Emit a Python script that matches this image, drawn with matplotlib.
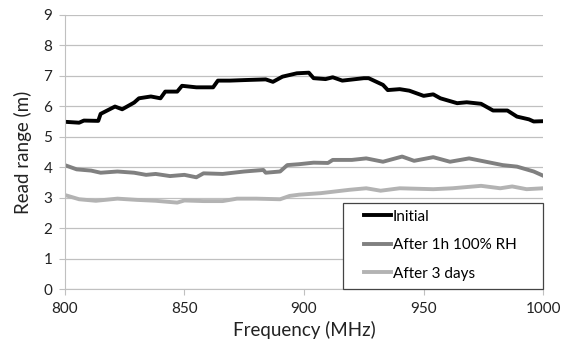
import matplotlib
matplotlib.use("Agg")
import matplotlib.pyplot as plt
from matplotlib.patches import Rectangle

plt.rcParams['font.family'] = ['Lato', 'DejaVu Sans']

# values
f_init = [800, 806, 808, 814, 815, 821, 824, 829, 831, 836, 840, 842, 847, 849, 855, 862,
          864, 869, 876, 884, 887, 891, 897, 902, 904, 909, 912, 916, 925, 927, 930, 933,
          935, 940, 944, 950, 954, 957, 964, 968, 974, 979, 985, 989, 994, 996, 1000]
initial = [5.49, 5.46, 5.53, 5.52, 5.75, 5.99, 5.90, 6.12, 6.26, 6.32, 6.26, 6.48, 6.48, 6.67,
           6.62, 6.62, 6.84, 6.84, 6.86, 6.88, 6.80, 6.97, 7.08, 7.10, 6.92, 6.89, 6.95, 6.84,
           6.92, 6.92, 6.81, 6.70, 6.53, 6.56, 6.51, 6.34, 6.39, 6.26, 6.10, 6.13, 6.08, 5.86,
           5.86, 5.66, 5.57, 5.50, 5.51]

f_rh = [800, 805, 811, 815, 822, 829, 834, 838, 844, 850, 855, 858, 866, 875, 883, 884, 890,
        893, 898, 904, 910, 912, 920, 926, 933, 941, 946, 954, 961, 969, 976, 983, 989, 996, 1000]
after_rh = [4.07, 3.93, 3.89, 3.82, 3.86, 3.82, 3.75, 3.78, 3.71, 3.75, 3.67, 3.80, 3.78, 3.86,
            3.91, 3.82, 3.86, 4.07, 4.10, 4.15, 4.14, 4.24, 4.24, 4.29, 4.18, 4.35, 4.21, 4.33,
            4.18, 4.29, 4.18, 4.07, 4.02, 3.86, 3.72]

f_3d = [800, 806, 813, 822, 830, 838, 847, 850, 858, 866, 872, 880, 890, 894, 898, 907, 919,
        926, 932, 940, 954, 962, 974, 982, 987, 993, 1000]
after_3d = [3.09, 2.95, 2.90, 2.97, 2.93, 2.90, 2.84, 2.91, 2.89, 2.89, 2.97, 2.97, 2.95, 3.06,
            3.10, 3.15, 3.26, 3.31, 3.23, 3.31, 3.28, 3.31, 3.39, 3.31, 3.37, 3.28, 3.31]

fig = plt.figure(figsize=(5.68, 3.51), dpi=100)
ax = fig.add_axes([0.114, 0.176, 0.8425, 0.782])

ax.plot(f_init, initial, color='black', lw=2.8, label='Initial')
ax.plot(f_rh, after_rh, color='#808080', lw=2.8, label='After 1h 100% RH')
ax.plot(f_3d, after_3d, color='#b3b3b3', lw=2.8, label='After 3 days')

ax.set_xlim(800, 1000)
ax.set_ylim(0, 9)
ax.set_xticks([800, 850, 900, 950, 1000])
ax.set_yticks(range(0, 10))
ax.grid(axis='y', color='#c0c0c0', lw=0.9)
ax.set_axisbelow(True)
for s in ['top', 'right']:
    ax.spines[s].set_visible(False)
for s in ['left', 'bottom']:
    ax.spines[s].set_color('#c0c0c0')
ax.tick_params(colors='#c0c0c0', labelcolor='#222222', labelsize=11, length=4, pad=5)

ax.set_xlabel('Frequency (MHz)', fontsize=13.5, color='#222222', labelpad=4)
ax.set_ylabel('Read range (m)', fontsize=13.5, color='#222222', labelpad=8)

# legend frame drawn separately so the entries can sit inset like the original
ax.add_patch(Rectangle((0.581, 0.0), 0.419, 0.314, transform=ax.transAxes,
                       facecolor='white', edgecolor='#444444', lw=0.9, zorder=4,
                       clip_on=False))
leg = ax.legend(loc='upper left', bbox_to_anchor=(0.625, 0.29), fontsize=11,
                frameon=False, handlelength=1.75, handletextpad=0.15,
                borderpad=0, labelspacing=0.95, borderaxespad=0)
leg.set_zorder(5)

fig.savefig('out.png', dpi=100)
